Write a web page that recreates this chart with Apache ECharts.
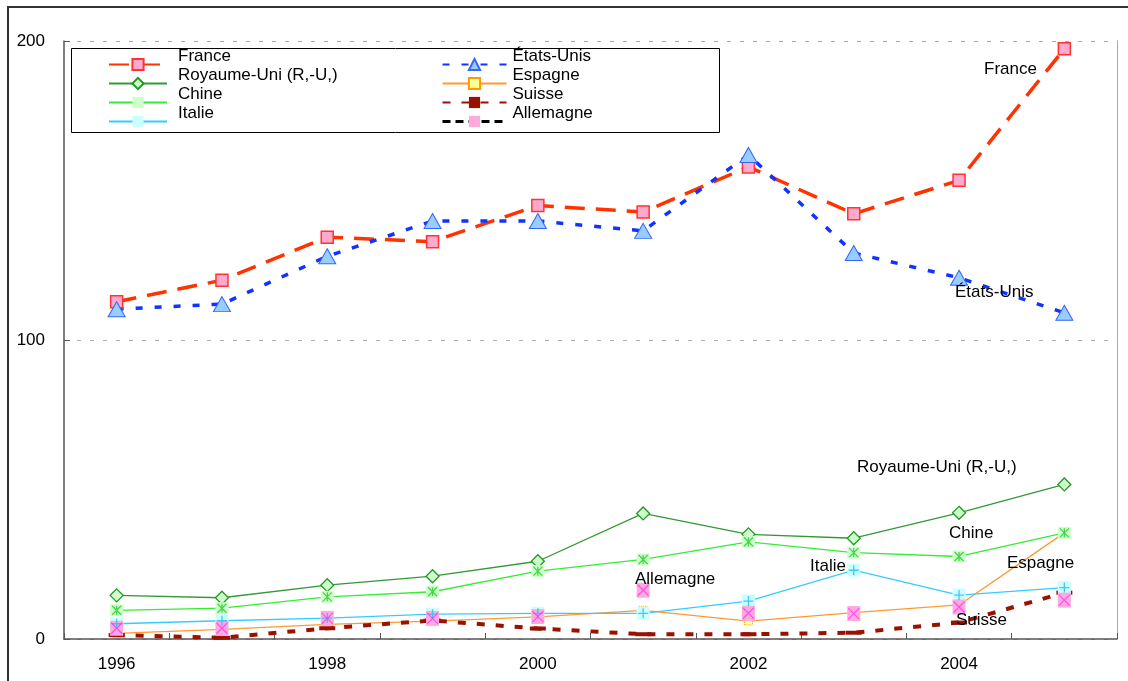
<!DOCTYPE html>
<html><head><meta charset="utf-8">
<script src="https://cdn.jsdelivr.net/npm/echarts@6/dist/echarts.min.js"></script>
<style>html,body{margin:0;padding:0;background:#fff}#c{width:1128px;height:681px}</style>
</head><body><div id="c"></div>
<script>
const years = ['1996','1997','1998','1999','2000','2001','2002','2003','2004','2005'];
const yTicks = [0, 100, 200];
const france = [112.8, 120.0, 134.4, 132.9, 145.0, 142.8, 157.9, 142.2, 153.4, 197.4];
const etatsUnis = [110.3, 112.0, 128.0, 139.8, 139.8, 136.5, 161.9, 129.1, 120.8, 109.1];
const royaumeUni = [14.6, 13.8, 18.0, 21.0, 26.0, 42.0, 35.0, 33.7, 42.2, 51.7];
const espagne = [1.9, 3.2, 4.9, 6.0, 7.4, 9.6, 6.0, 8.8, 11.4, 35.5];
const chine = [9.6, 10.3, 14.1, 15.8, 22.7, 26.6, 32.5, 28.9, 27.6, 35.5];
const suisse = [1.3, 0.4, 3.6, 6.2, 3.5, 1.6, 1.6, 2.1, 5.5, 15.5];
const italie = [5.1, 6.1, 7.0, 8.3, 8.6, 8.6, 12.7, 23.0, 14.7, 17.2];
const allemagne = [3.6, 3.6, 6.9, 6.9, 7.5, 16.3, 8.6, 8.5, 10.7, 13.0];

const FONT = '"Liberation Sans", Arial, sans-serif';
const chart = echarts.init(document.getElementById('c'), null, {renderer: 'canvas'});

const txt = (t, x, y) => ({type: 'text', z: 100, style: {text: t, x: x, y: y, font: '17px ' + FONT, fill: '#000', verticalAlign: 'middle', textVerticalAlign: 'middle'}});

const legendText = (padLeft) => ({
  fontSize: 17, fontFamily: FONT, color: '#000',
  rich: {t: {fontSize: 17, fontFamily: FONT, color: '#000', lineHeight: 17, padding: [0, 0, 16, padLeft]}}
});

chart.setOption({
  animation: false,
  backgroundColor: '#fff',
  grid: {left: 64, right: 11, top: 41, bottom: 42, containLabel: false},
  xAxis: {
    type: 'category', data: years, boundaryGap: true,
    axisLine: {lineStyle: {color: '#555', width: 1.5}},
    axisTick: {show: true, inside: true, length: 6, interval: 0, lineStyle: {color: '#555'}},
    axisLabel: {interval: 1, fontSize: 17, fontFamily: FONT, color: '#000', margin: 17},
    splitLine: {show: false}
  },
  yAxis: [{
    type: 'value', min: yTicks[0], max: yTicks[yTicks.length - 1], interval: 100,
    axisLine: {show: true, lineStyle: {color: '#555', width: 1.5}},
    axisTick: {show: true, inside: true, length: 6, lineStyle: {color: '#555'}},
    axisLabel: {fontSize: 17, fontFamily: FONT, color: '#000', margin: 19},
    splitLine: {show: true, lineStyle: {color: '#aaa', type: [4, 9], width: 1}}
  }, {
    type: 'value', position: 'right', min: 0, max: 200,
    axisLine: {show: true, lineStyle: {color: '#aaa', width: 1}},
    axisTick: {show: false}, axisLabel: {show: false}, splitLine: {show: false}
  }],
  legend: [{
    orient: 'vertical', left: 108, top: 48, padding: 0, itemWidth: 58, itemHeight: 14, itemGap: -14,
    formatter: '{t|{name}}', textStyle: legendText(6),
    data: ['France', 'Royaume-Uni (R,-U,)', 'Chine', 'Italie']
  }, {
    orient: 'vertical', left: 441, top: 48, padding: 0, itemWidth: 64, itemHeight: 14, itemGap: -14,
    formatter: '{t|{name}}', textStyle: legendText(1),
    data: ['États-Unis', 'Espagne', 'Suisse',
      {name: 'Allemagne', lineStyle: {color: '#000', opacity: 1, type: [8, 5], width: 3}}]
  }],
  graphic: [
    {type: 'rect', z: -1, shape: {x: 8, y: 7, width: 1200, height: 700}, style: {fill: 'none', stroke: '#333', lineWidth: 2}},
    {type: 'rect', z: 50, shape: {x: 71.5, y: 48.5, width: 648, height: 84}, style: {fill: 'none', stroke: '#000', lineWidth: 1}},
    txt('France', 984, 69),
    txt('États-Unis', 955, 292),
    txt('Royaume-Uni (R,-U,)', 857, 467),
    txt('Chine', 949, 533),
    txt('Espagne', 1007, 563),
    txt('Italie', 810, 566),
    txt('Allemagne', 635, 579),
    txt('Suisse', 956, 620)
  ],
  series: [
    {name: 'France', type: 'line', data: france, symbol: 'rect', symbolSize: 12,
      lineStyle: {color: '#FF3300', width: 3.5, type: [20, 11]},
      itemStyle: {color: '#FFAACC', borderColor: '#FF3333', borderWidth: 1.5}},
    {name: 'États-Unis', type: 'line', data: etatsUnis, symbol: 'triangle', symbolSize: [17, 15],
      lineStyle: {color: '#1133FF', width: 3.5, type: [7, 12]},
      itemStyle: {color: '#99CCFF', borderColor: '#3366FF', borderWidth: 1}},
    {name: 'Royaume-Uni (R,-U,)', type: 'line', data: royaumeUni, symbol: 'diamond', symbolSize: 13,
      lineStyle: {color: '#339933', width: 1.3},
      itemStyle: {color: '#CCFFCC', borderColor: '#229922', borderWidth: 1.3}},
    {name: 'Espagne', type: 'line', data: espagne, symbol: 'rect', symbolSize: 8,
      lineStyle: {color: '#FF9933', width: 1.3},
      itemStyle: {color: '#FFFF99', borderColor: '#FF9900', borderWidth: 1, borderType: 'dotted'}},
    {name: 'Chine', type: 'line', data: chine, symbol: 'rect', symbolSize: [13, 12],
      lineStyle: {color: '#33EE33', width: 1.3},
      itemStyle: {color: '#CCFFCC'}},
    {name: 'Suisse', type: 'line', data: suisse, symbol: 'path://M0,0h16v4h-16z', symbolKeepAspect: true, symbolSize: 16,
      lineStyle: {color: '#991100', width: 4, type: [8, 11]},
      itemStyle: {color: '#991100'}},
    {name: 'Italie', type: 'line', data: italie, symbol: 'rect', symbolSize: [13, 13],
      lineStyle: {color: '#33CCFF', width: 1.3},
      itemStyle: {color: '#CCFFFF'}},
    {name: 'Allemagne', type: 'line', data: allemagne, symbol: 'rect', symbolSize: [13, 15],
      lineStyle: {opacity: 0, color: '#000', width: 3},
      itemStyle: {color: '#FFAADD'}},
    {name: 'chine-glyph', type: 'scatter', data: chine, z: 3, silent: true,
      symbol: 'path://M0,0L10,10M10,0L0,10M5,0L5,10', symbolSize: 9,
      itemStyle: {color: 'transparent', borderColor: '#22CC22', borderWidth: 1.3}},
    {name: 'italie-glyph', type: 'scatter', data: italie, z: 3, silent: true,
      symbol: 'path://M5,0L5,10M0,5L10,5', symbolSize: 10,
      itemStyle: {color: 'transparent', borderColor: '#22BBEE', borderWidth: 1.3}},
    {name: 'allemagne-glyph', type: 'scatter', data: allemagne, z: 3, silent: true,
      symbol: 'path://M0,0L10,10M10,0L0,10', symbolSize: 11,
      itemStyle: {color: 'transparent', borderColor: '#FF33FF', borderWidth: 1.2}}
  ]
});
</script>
</body></html>
